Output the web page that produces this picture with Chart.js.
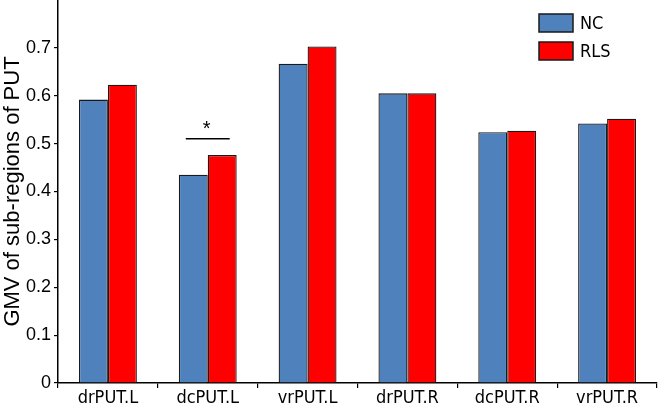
<!DOCTYPE html>
<html>
<head>
<meta charset="utf-8">
<script src="https://cdn.jsdelivr.net/npm/chart.js@4/dist/chart.umd.min.js"></script>
<style>
  html, body { margin: 0; padding: 0; background: #fff; }
  #wrap { width: 659px; height: 408px; position: relative; }
</style>
</head>
<body>
<div id="wrap"><canvas id="c"></canvas></div>
<script>
const categories = ['drPUT.L', 'dcPUT.L', 'vrPUT.L', 'drPUT.R', 'dcPUT.R', 'vrPUT.R'];
const seriesNames = ['NC', 'RLS'];
const ncValues = [0.592, 0.435, 0.667, 0.605, 0.524, 0.542];
const rlsValues = [0.623, 0.476, 0.703, 0.605, 0.527, 0.552];
const yMin = 0;
const yMax = 0.8;
const yStep = 0.1;
const yTitle = 'GMV of sub-regions of PUT';
const sigCategory = 1;
const sigLevel = 0.51;
const sigLabel = '*';

const NARROW = '"DejaVu Sans Condensed", "Liberation Sans Narrow", "Liberation Sans", sans-serif';
const SANS = '"Liberation Sans", Arial, sans-serif';
Chart.defaults.font.family = SANS;
Chart.defaults.color = '#000';

const customLegend = {
  id: 'customLegend',
  afterDraw(chart) {
    const ctx = chart.ctx;
    ctx.save();
    chart.data.datasets.forEach((ds, i) => {
      const bx = 539, by = 14 + i * 28, bw = 34, bh = 18;
      ctx.fillStyle = ds.backgroundColor;
      ctx.fillRect(bx, by, bw, bh);
      ctx.strokeStyle = '#1a1a1a';
      ctx.lineWidth = 1.5;
      ctx.strokeRect(bx, by, bw, bh);
      ctx.fillStyle = '#000';
      ctx.font = '18px ' + NARROW;
      ctx.textBaseline = 'middle';
      ctx.textAlign = 'left';
      ctx.fillText(ds.label, bx + bw + 7, by + bh / 2 + 1);
    });
    ctx.restore();
  }
};

const sigMarker = {
  id: 'sigMarker',
  afterDatasetsDraw(chart) {
    const ctx = chart.ctx;
    const xs = chart.scales.x, ys = chart.scales.y;
    const cx = xs.getPixelForValue(sigCategory);
    const catW = xs.getPixelForValue(1) - xs.getPixelForValue(0);
    const half = catW * 0.22;
    const y = ys.getPixelForValue(sigLevel);
    ctx.save();
    ctx.strokeStyle = '#000';
    ctx.lineWidth = 1.5;
    ctx.beginPath();
    ctx.moveTo(cx - half, y);
    ctx.lineTo(cx + half, y);
    ctx.stroke();
    ctx.fillStyle = '#000';
    ctx.font = '20px ' + SANS;
    ctx.textAlign = 'center';
    ctx.textBaseline = 'middle';
    ctx.fillText(sigLabel, cx - 1, y - 9);
    ctx.restore();
  }
};

new Chart(document.getElementById('c'), {
  type: 'bar',
  data: {
    labels: categories,
    datasets: [
      { label: seriesNames[0], data: ncValues, backgroundColor: '#4F81BD', borderColor: '#1a1a1a', borderWidth: 1.3 },
      { label: seriesNames[1], data: rlsValues, backgroundColor: '#FF0000', borderColor: '#1a1a1a', borderWidth: 1.3 }
    ]
  },
  options: {
    responsive: true,
    maintainAspectRatio: false,
    animation: false,
    layout: { padding: { left: 0, right: 2, top: 0, bottom: 0 } },
    datasets: { bar: { categoryPercentage: 0.58, barPercentage: 1.0 } },
    plugins: { legend: { display: false }, tooltip: { enabled: false } },
    scales: {
      x: {
        grid: { display: true, drawOnChartArea: false, drawTicks: true, tickLength: 5, color: '#000', lineWidth: 1.2, offset: true },
        border: { display: true, color: '#000', width: 1.5 },
        ticks: { color: '#000', font: { family: NARROW, size: 18 }, padding: 0, maxRotation: 0 },
        afterFit(s) { s.height = 25; s.paddingLeft = 0; s.paddingRight = 0; }
      },
      y: {
        min: yMin,
        max: yMax,
        grid: {
          display: true, drawOnChartArea: false, drawTicks: true, tickLength: 4, lineWidth: 1.2,
          color: c => (c.tick && c.tick.value > yMax - yStep / 2) ? 'rgba(0,0,0,0)' : '#000'
        },
        border: { display: true, color: '#000', width: 1.5 },
        ticks: {
          stepSize: yStep,
          color: '#000',
          font: { family: SANS, size: 18 },
          padding: 3,
          callback: v => (v > yMax - yStep / 2) ? '' : (Math.abs(v) < 1e-9 ? '0' : v.toFixed(1))
        },
        title: { display: true, text: yTitle, color: '#000', font: { family: SANS, size: 22 }, padding: 0 },
        afterFit(s) { s.width = 58; s.paddingTop = 0; s.paddingBottom = 0; }
      }
    }
  },
  plugins: [customLegend, sigMarker]
});
</script>
</body>
</html>
